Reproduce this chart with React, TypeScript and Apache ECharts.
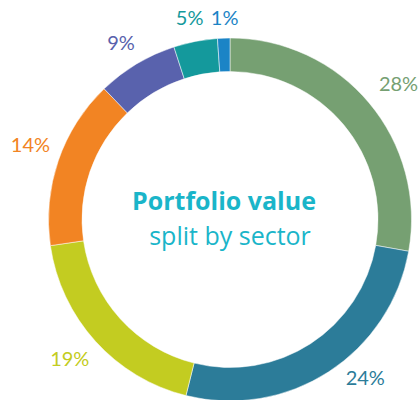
import React, { useEffect, useRef } from "react";
import * as echarts from "echarts";

const sectors = ["Sector A", "Sector B", "Sector C", "Sector D", "Sector E", "Sector F", "Sector G"];
// arc shares as drawn in the picture
const arcShares = [27.8, 26.1, 18.8, 15.1, 7.2, 3.9, 1.1];
// printed percentage labels
const labelTexts = ["28%", "24%", "19%", "14%", "9%", "5%", "1%"];
const colors = ["#76A072", "#2C7C99", "#C3CC21", "#F28423", "#5962AD", "#14999C", "#1B84C6"];
const titleMain = "Portfolio value";
const titleSub = "split by sector";

// style: small label nudges (pixels) to match the reference placement
const labelNudges: [number, number][] = [
  [6, 0],
  [20, -20],
  [-3, -4],
  [1, -7],
  [0, 4],
  [0, 6],
  [2, 9],
];

export default function App() {
  const ref = useRef<HTMLDivElement>(null);
  useEffect(() => {
    if (!ref.current) return;
    const chart = echarts.init(ref.current, undefined, { renderer: "svg" });
    const center = [230, 219.5];
    chart.setOption({
      animation: false,
      backgroundColor: "#ffffff",
      series: [
        {
          type: "pie",
          center,
          radius: [148, 181.5],
          startAngle: 90,
          clockwise: true,
          silent: true,
          label: { show: false },
          labelLine: { show: false },
          itemStyle: { borderColor: "#ffffff", borderWidth: 0.5 },
          data: sectors.map((name, i) => ({
            name,
            value: arcShares[i],
            itemStyle: { color: colors[i] },
          })),
        },
        {
          type: "pie",
          center,
          radius: [200, 218],
          startAngle: 90,
          clockwise: true,
          silent: true,
          labelLine: { show: false },
          itemStyle: { color: "rgba(0,0,0,0)" },
          label: {
            show: true,
            position: "inside",
            fontFamily: "Lato",
            fontSize: 20,
            fontWeight: "normal",
          },
          data: sectors.map((name, i) => ({
            name,
            value: arcShares[i],
            label: { formatter: labelTexts[i], color: colors[i], offset: labelNudges[i] },
          })),
        },
      ],
      graphic: [
        {
          type: "text",
          x: 224,
          y: 199.5,
          style: {
            text: titleMain,
            fontFamily: "Open Sans",
            fontWeight: "bold",
            fontSize: 25,
            fill: "#1AB5C9",
            textAlign: "center",
            textVerticalAlign: "middle",
          },
        },
        {
          type: "text",
          x: 230,
          y: 234.5,
          style: {
            text: titleSub,
            fontFamily: "Open Sans",
            fontWeight: "normal",
            fontSize: 25,
            fill: "#1AB5C9",
            textAlign: "center",
            textVerticalAlign: "middle",
          },
        },
      ],
    });
    return () => chart.dispose();
  }, []);
  return (
    <div
      ref={ref}
      style={{ position: "absolute", left: 0, top: 0, width: 419, height: 400 }}
    />
  );
}
